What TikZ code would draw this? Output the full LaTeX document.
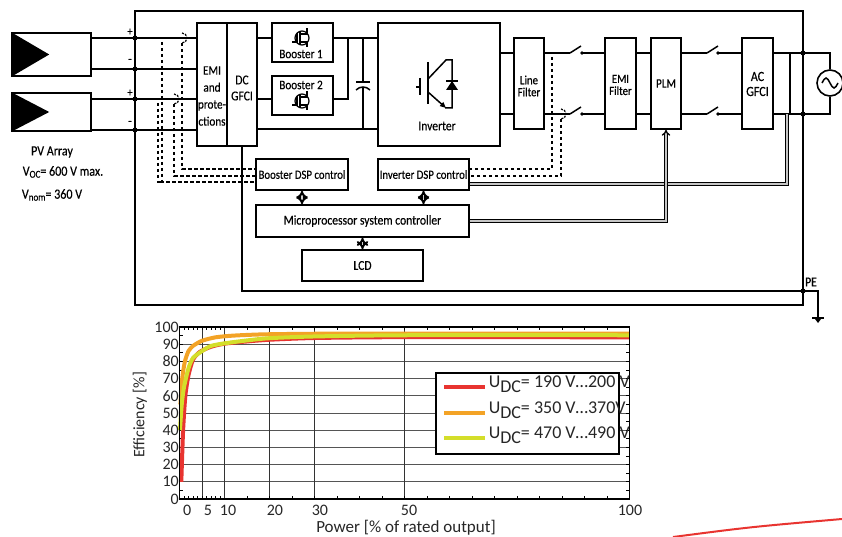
\documentclass[tikz,border=0pt]{standalone}
\usepackage{fontspec}
\setmainfont{Carlito}
\newfontfamily\narrowfont{Carlito}[FakeStretch=0.86, FakeBold=0.35]
\usetikzlibrary{arrows.meta}

\definecolor{curvered}{RGB}{232,52,48}
\definecolor{curveorange}{RGB}{243,163,38}
\definecolor{curvelime}{RGB}{212,222,42}
\definecolor{gridgray}{RGB}{85,85,85}

\begin{document}
\begin{tikzpicture}[
		x=1pt, y=-1pt,
		line width=1.5pt,
		every node/.style={inner sep=0pt, align=center, font=\narrowfont\fontsize{12.5}{13}\selectfont},
		blk/.style={draw, line width=1.6pt},
		sense/.style={line width=1.6pt, dash pattern=on 3.5pt off 2.5pt},
		bus/.style={line width=1.3pt, double=gray!45, double distance=1.4pt},
		dblarrow/.style={line width=2pt, double=gray!35, double distance=1.6pt, {Implies}-{Implies}},
		curve/.style={line width=4pt, line join=round, smooth, tension=0.4},
		chartlabel/.style={font=\fontsize{16}{16}\selectfont, text=black!85}
	]
  \useasboundingbox (0,0) rectangle (842,537);

  % housing
  \coordinate (frame_nw) at (135,11);
  \coordinate (frame_se) at (803,305);
  \draw (frame_nw) rectangle (frame_se);

  % PV array
  \node (pv1) [blk, minimum width=79, minimum height=43] at (51.5,54.5) {};
  \node (pv2) [blk, minimum width=79, minimum height=38] at (51.5,112) {};
  \fill (pv1.north west) -- (pv1.south west) -- ([xshift=38pt]pv1.west) -- cycle;
  \fill (pv2.north west) -- (pv2.south west) -- ([xshift=38pt]pv2.west) -- cycle;
  \node (pv_label) [font=\narrowfont\fontsize{14}{14}\selectfont] at (52,152) {PV Array};
  \node (voc_label) [font=\narrowfont\fontsize{14}{14}\selectfont] at (63,172) {V\raisebox{-2pt}{\fontsize{10.5}{10}\selectfont OC}= 600 V max.};
  \node (vnom_label) [font=\narrowfont\fontsize{14}{14}\selectfont] at (52,195) {V\raisebox{-2pt}{\fontsize{10.5}{10}\selectfont nom}= 360 V};

  \node (plus1) at (130,32) {+};
  \node (minus1) at (130,61) {-};
  \node (plus2) at (130,93) {+};
  \node (minus2) at (130,123) {-};

  % input stage
  \node (emi) [blk, minimum width=30, minimum height=123] at (212,84.5) {};
  \node (emi_label) [font=\narrowfont\fontsize{13}{17}\selectfont] at (212,96) {EMI\\and\\prote-\\ctions};
  \node (dcgfci) [blk, minimum width=30, minimum height=123] at (242,84.5) {};
  \node (dcgfci_label) [font=\narrowfont\fontsize{13.5}{16}\selectfont] at (242,88) {DC\\GFCI};

  \coordinate (lv_p1) at (0,38);
  \coordinate (lv_m1) at (0,69);
  \coordinate (lv_p2) at (0,99);
  \coordinate (lv_m2) at (0,130);
  \draw (pv1.east |- lv_p1) -- (emi.west |- lv_p1);
  \draw (pv1.east |- lv_m1) -- (emi.west |- lv_m1);
  \draw (pv2.east |- lv_p2) -- (emi.west |- lv_p2);
  \draw (pv2.east |- lv_m2) -- (emi.west |- lv_m2);
  \foreach \lv in {lv_p1, lv_m1, lv_p2, lv_m2}
    \fill (frame_nw |- \lv) circle (2.5pt);

  % boosters
  \node (boost1) [blk, minimum width=61, minimum height=39] at (302.5,42.5) {};
  \node (boost1_label) [font=\narrowfont\fontsize{13}{14}\selectfont] at (301,54) {Booster 1};
  \node (boost2) [blk, minimum width=61, minimum height=39] at (302.5,95.5) {};
  \node (boost2_label) [font=\narrowfont\fontsize{13}{14}\selectfont] at (301,85) {Booster 2};
  \foreach \yy in {38,101} {
    \draw[line width=1.2pt] (302,\yy) circle (7pt);
    \draw[line width=1.2pt] (292,\yy+4) -- (297,\yy+4) (297,\yy-5) -- (297,\yy+5);
    \draw[line width=1.2pt] (300,\yy-6) -- (300,\yy+6);
    \draw[line width=1.2pt] (300,\yy-4) -- (307,\yy-4) -- (307,\yy-10);
    \draw[line width=1.2pt] (300,\yy+4) -- (307,\yy+4) -- (307,\yy+9);
  }

  % inverter
  \node (inv) [blk, minimum width=122, minimum height=123] at (439,84.5) {};
  \node (inv_label) [font=\narrowfont\fontsize{13.5}{14}\selectfont] at (437,126) {Inverter};
  \draw (416,87) -- (420,87) (420,78) -- (420,95);
  \draw (428,62) -- (428,104);
  \draw (428,79) -- (446,60) -- (452,60) -- (452,108) -- (445,108);
  \draw[-{Triangle[length=6pt,width=5pt]}] (428,92) -- (446,108);
  \fill (446,90) -- (458,90) -- (452,81) -- cycle;
  \draw (446,81) -- (458,81);

  % DC link
  \coordinate (lv_dcp) at (0,38);
  \coordinate (lv_b2) at (0,99);
  \coordinate (lv_dcm) at (0,129);
  \coordinate (dc_join) at (348,38);
  \coordinate (cap_top) at (363,82);
  \coordinate (cap_bot) at (363,87);
  \draw (dcgfci.east |- lv_dcp) -- (boost1.west |- lv_dcp);
  \draw (dcgfci.east |- lv_b2) -- (boost2.west |- lv_b2);
  \draw (dcgfci.east |- lv_dcm) -- (inv.west |- lv_dcm);
  \draw (boost1.east |- lv_dcp) -- (inv.west |- lv_dcp);
  \draw (boost2.east |- lv_b2) -| (dc_join);
  \draw (cap_top |- lv_dcp) -- (cap_top);
  \draw (cap_bot) -- (cap_bot |- lv_dcm);
  \draw (356,82) -- (370,82);
  \draw (356,90) .. controls (360,86) and (366,86) .. (370,90);

  % output stage
  \node (lfilt) [blk, minimum width=30, minimum height=91] at (529,83.5) {};
  \node (lfilt_label) [font=\narrowfont\fontsize{12.5}{12}\selectfont] at (529,86) {Line\\Filter};
  \node (emif) [blk, minimum width=31, minimum height=91] at (620.5,83.5) {};
  \node (emif_label) [font=\narrowfont\fontsize{12.5}{12}\selectfont] at (620.5,85) {EMI\\Filter};
  \node (plm) [blk, minimum width=30, minimum height=91, font=\narrowfont\fontsize{13}{14}\selectfont] at (666,83.5) {PLM};
  \node (acgfci) [blk, minimum width=31, minimum height=91] at (757.5,83.5) {};
  \node (acgfci_label) [font=\narrowfont\fontsize{14}{15}\selectfont] at (757.5,84) {AC\\GFCI};
  \node (src) [draw, circle, minimum size=26, line width=1.6pt] at (830,83) {};
  \draw (src.center) ++(-8,0) sin ++(4,-5) cos ++(4,5) sin ++(4,5) cos ++(4,-5);

  \coordinate (lv_acu) at (0,53);
  \coordinate (lv_acl) at (0,114);
  \coordinate (sw1) at (570,53);  \coordinate (sw1_c) at (582,53);
  \coordinate (sw2) at (570,114); \coordinate (sw2_c) at (582,114);
  \coordinate (sw3) at (707,53);  \coordinate (sw3_c) at (718,53);
  \coordinate (sw4) at (707,114); \coordinate (sw4_c) at (718,114);
  \draw (inv.east |- lv_acu) -- (lfilt.west |- lv_acu);
  \draw (inv.east |- lv_acl) -- (lfilt.west |- lv_acl);
  \draw (lfilt.east |- lv_acu) -- (sw1);
  \draw (lfilt.east |- lv_acl) -- (sw2);
  \draw (sw1_c) -- (emif.west |- lv_acu);
  \draw (sw2_c) -- (emif.west |- lv_acl);
  \draw (emif.east |- lv_acu) -- (plm.west |- lv_acu);
  \draw (emif.east |- lv_acl) -- (plm.west |- lv_acl);
  \draw (plm.east |- lv_acu) -- (sw3);
  \draw (plm.east |- lv_acl) -- (sw4);
  \draw (sw3_c) -- (acgfci.west |- lv_acu);
  \draw (sw4_c) -- (acgfci.west |- lv_acl);
  \foreach \sw in {sw1, sw2, sw3, sw4} {
    \draw (\sw) -- ++(11,-7);
    \fill (\sw_c) circle (1.8pt);
  }
  \draw (acgfci.east |- lv_acu) -| (src.north);
  \draw (acgfci.east |- lv_acl) -| (src.south);
  \fill (frame_se |- lv_acu) circle (2.5pt);
  \fill (frame_se |- lv_acl) circle (2.5pt);

  % control
  \node (bdsp) [blk, minimum width=92, minimum height=31] at (302,174.5) {Booster DSP control};
  \node (idsp) [blk, minimum width=91, minimum height=31] at (423.5,174.5) {Inverter DSP control};
  \node (mpu) [blk, minimum width=213, minimum height=32, font=\narrowfont\fontsize{13.5}{14}\selectfont] at (362.5,221) {Microprocessor system controller};
  \node (lcd) [blk, minimum width=121, minimum height=31, font=\narrowfont\fontsize{13.5}{14}\selectfont] at (362.5,265.5) {LCD};
  \draw[dblarrow] (bdsp.south) -- (bdsp.south |- mpu.north);
  \draw[dblarrow] (idsp.south) -- (idsp.south |- mpu.north);
  \draw[dblarrow] (mpu.south) -- (lcd.north);

  \coordinate (lv_ibus) at (0,184);
  \coordinate (lv_mbus) at (0,221);
  \coordinate (ac_tap_u) at (790,53);
  \coordinate (ac_tap_l) at (787,114);
  \draw (ac_tap_u) -- (ac_tap_u |- ac_tap_l);
  \draw[bus] (ac_tap_l) |- (idsp.east |- lv_ibus);
  \draw[bus, -{Implies}] (mpu.east |- lv_mbus) -| (plm.south);

  % sensing
  \coordinate (cs_a) at (182,38);
  \coordinate (cs_b) at (174,99);
  \coordinate (cs_c) at (561,114);
  \coordinate (vs_a) at (162,42);
  \coordinate (vs_b) at (158,103);
  \coordinate (vs_c) at (552,57);
  \coordinate (lv_s1) at (0,169);
  \coordinate (lv_s2) at (0,176);
  \coordinate (lv_s3) at (0,182);
  \foreach \cs in {cs_a, cs_b, cs_c}
    \draw[line width=1.2pt, dash pattern=on 2pt off 1.2pt] ([yshift=5pt]\cs) arc[start angle=90, end angle=-90, radius=5pt];
  \draw[sense] ([yshift=-5pt]cs_a) |- (bdsp.west |- lv_s1);
  \draw[sense] ([yshift=-5pt]cs_b) |- (bdsp.west |- lv_s2);
  \draw[sense] (vs_a) |- (bdsp.west |- lv_s3);
  \draw[sense] (vs_b) |- (vs_a |- lv_s3);
  \draw[sense] (vs_c) |- (idsp.east |- lv_s1);
  \draw[sense] ([yshift=-5pt]cs_c) |- (idsp.east |- lv_s2);

  % protective earth
  \coordinate (pe) at (803,291);
  \coordinate (gnd) at (818,318);
  \draw (dcgfci.south) |- (pe) -| (gnd);
  \fill (pe) circle (2.5pt);
  \node (pe_label) [font=\narrowfont\fontsize{13.5}{14}\selectfont] at (811,282) {PE};
  \draw[line width=2.5pt] (gnd) ++(-6,0) -- ++(12,0);
  \fill (gnd) ++(-3,1) -- ++(6,0) -- ++(-3,4) -- cycle;

  % efficiency chart
  \begin{scope}[shift={(179.5,499)}, x=4.5pt, y=1.72pt]
    \foreach \e in {10,20,...,90}
      \draw[gridgray, line width=1pt] (0,\e) -- (100,\e);
    \foreach \p in {5,10,20,30,50}
      \draw[black!80, line width=1pt] (\p,0) -- (\p,100);
    \foreach \p in {1,...,9,15,20,...,95} {
      \draw[line width=0.8pt] (\p,100) -- ++(0,-2);
      \draw[line width=0.8pt] (\p,0) -- ++(0,2);
    }
    \foreach \e in {5,10,...,95} {
      \draw[line width=0.8pt] (100,\e) -- ++(-0.7,0);
      \draw[line width=0.8pt] (0,\e) -- ++(0.7,0);
    }
    \draw[curve, curvered] plot coordinates {(0.4,10) (0.8,40) (1.3,60) (2,72) (3,81) (4.5,85.5) (7,88.5) (10,90.3) (15,91.6) (20,92.6) (30,93.6) (50,94.1) (100,94)};
    \draw[curve, curveorange] plot coordinates {(0.2,55) (0.6,70) (1.2,80) (2,86) (3,89) (5,92) (8,94) (12,95) (20,95.8) (40,96.2) (100,96.2)};
    \draw[curve, curvelime] plot coordinates {(0.1,40) (0.5,55) (1,65) (2,76) (3,82) (5,86) (7,89) (10,90.5) (15,92.2) (20,93.5) (30,94.5) (50,95.2) (100,95.2)};
    \draw[line width=1.6pt] (0,0) rectangle (100,100);
    \foreach \e in {0,10,...,100}
      \node (ylab\e) [chartlabel, anchor=east] at (0,\e) {\e};
    \foreach \p/\xp in {0/1.7, 5/6.3, 10/10.8, 20/21.2, 30/31.2, 50/51, 100/100.1}
      \node (xlab\p) [chartlabel] at (\xp,-6.5) {\p};
  \end{scope}
  \node (eff_label) [chartlabel, rotate=90] at (140,415) {Efficiency [\%]};
  \node (pow_label) [chartlabel, font=\fontsize{17}{17}\selectfont] at (406,528) {Power [\% of rated output]};

  % legend
  \node (legend) [draw, fill=white, line width=1.4pt, minimum width=183, minimum height=81] at (527.5,413.5) {};
  \draw[line width=4pt, curvered] (444,387) -- (485,387);
  \draw[line width=4pt, curveorange] (444,413) -- (485,413);
  \draw[line width=4pt, curvelime] (444,438) -- (485,438);
  \node (leg_red) [chartlabel, anchor=west, font=\fontsize{18}{18}\selectfont] at (488,384) {U\raisebox{-5pt}{DC}= 190 V…200 V};
  \node (leg_orange) [chartlabel, anchor=west, font=\fontsize{18}{18}\selectfont] at (488,410) {U\raisebox{-5pt}{DC}= 350 V…370V};
  \node (leg_lime) [chartlabel, anchor=west, font=\fontsize{18}{18}\selectfont] at (488,435) {U\raisebox{-5pt}{DC}= 470 V…490 V};

  \draw[curvered, line width=2pt] (673,537) .. controls (750,527) .. (842,519);
\end{tikzpicture}
\end{document}
